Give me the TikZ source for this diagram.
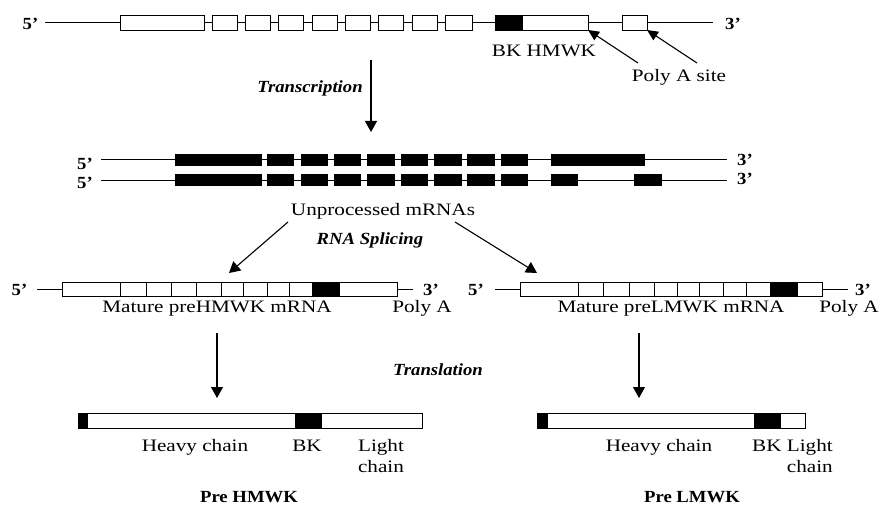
\documentclass[tikz,border=0pt]{standalone}
\usepackage{fontspec}
\setmainfont{Liberation Serif}[FakeStretch=1.21]
\newfontfamily\bfam{Liberation Serif}[FakeStretch=1.1]
\usetikzlibrary{arrows.meta}
\newcommand\cellbox[6]{\node[#6,minimum width={#3pt-#2pt},minimum height={#5pt-#4pt},anchor=north west] (#1) at (#2,#4) {};}
\begin{document}
\begin{tikzpicture}[x=1pt,y=-1pt,
  ex/.style={draw,fill=white,line width=0.9pt,inner sep=0,outer sep=0},
  bx/.style={draw,fill=black,line width=0.9pt,inner sep=0,outer sep=0},
  ln/.style={line width=0.9pt},
  arr/.style={line width=1.1pt,-{Triangle[width=12pt,length=11pt]}},
  sarr/.style={line width=1.1pt,-{Triangle[width=10pt,length=11pt]}},
  txt/.style={font=\fontsize{17.5}{19}\selectfont,inner sep=0},
  btxt/.style={font=\bfam\bfseries\fontsize{17}{19}\selectfont,inner sep=0},
  bitxt/.style={font=\bfam\bfseries\itshape\fontsize{17}{19}\selectfont,inner sep=0}]
\useasboundingbox[fill=white] (0,0) rectangle (881,508);

% ---------- gene ----------
\coordinate (gL) at (45,22.5);
\coordinate (gR) at (713,22.5);
\draw[ln] (gL) -- (gR);
\cellbox{g0}{120}{204}{15}{30}{ex}
\cellbox{g1}{212}{237}{15}{30}{ex}
\cellbox{g2}{245}{270}{15}{30}{ex}
\cellbox{g3}{278}{303}{15}{30}{ex}
\cellbox{g4}{312}{337}{15}{30}{ex}
\cellbox{g5}{345}{370}{15}{30}{ex}
\cellbox{g6}{378}{403}{15}{30}{ex}
\cellbox{g7}{412}{437}{15}{30}{ex}
\cellbox{g8}{445}{472}{15}{30}{ex}
\cellbox{gk}{495}{522}{15}{30}{bx}
\cellbox{gw}{522}{588}{15}{30}{ex}
\cellbox{gp}{622}{647}{15}{30}{ex}
\node[btxt,anchor=base] (g5p) at (30.5,29.3) {5’};
\node[btxt,anchor=base] (g3p) at (733,29.3) {3’};
\node[txt,anchor=base] (bkh) at (544,57) {BK HMWK};
\node[txt,anchor=base] (pas) at (679,81.7) {Poly A site};
\coordinate (pa1) at (638,63);
\coordinate (pa2) at (697,63);
\draw[sarr] (pa1) -- (gw.south east);
\draw[sarr] (pa2) -- (gp.south east);

% ---------- transcription ----------
\coordinate (t1) at (371,60);
\coordinate (t2) at (371,132);
\draw[arr] (t1) -- (t2);
\node[bitxt,anchor=base] (trs) at (310,92.7) {Transcription};

% ---------- unprocessed mRNAs ----------
\coordinate (r1L) at (101,159.5);
\coordinate (r1R) at (727,159.5);
\coordinate (r2L) at (101,180);
\coordinate (r2R) at (727,180);
\draw[ln] (r1L) -- (r1R);
\draw[ln] (r2L) -- (r2R);
\cellbox{a0}{175}{261}{154}{165}{bx}
\cellbox{a1}{267}{293}{154}{165}{bx}
\cellbox{a2}{301}{327}{154}{165}{bx}
\cellbox{a3}{334}{360}{154}{165}{bx}
\cellbox{a4}{367}{394}{154}{165}{bx}
\cellbox{a5}{401}{427}{154}{165}{bx}
\cellbox{a6}{434}{461}{154}{165}{bx}
\cellbox{a7}{467}{494}{154}{165}{bx}
\cellbox{a8}{501}{527}{154}{165}{bx}
\cellbox{a9}{551}{644}{154}{165}{bx}
\cellbox{b0}{175}{261}{174.5}{185.5}{bx}
\cellbox{b1}{267}{293}{174.5}{185.5}{bx}
\cellbox{b2}{301}{327}{174.5}{185.5}{bx}
\cellbox{b3}{334}{360}{174.5}{185.5}{bx}
\cellbox{b4}{367}{394}{174.5}{185.5}{bx}
\cellbox{b5}{401}{427}{174.5}{185.5}{bx}
\cellbox{b6}{434}{461}{174.5}{185.5}{bx}
\cellbox{b7}{467}{494}{174.5}{185.5}{bx}
\cellbox{b8}{501}{527}{174.5}{185.5}{bx}
\cellbox{b9}{551}{577}{174.5}{185.5}{bx}
\cellbox{b10}{634}{661}{174.5}{185.5}{bx}
\node[btxt,anchor=base] (r15) at (85,169) {5’};
\node[btxt,anchor=base] (r25) at (85,188) {5’};
\node[btxt,anchor=base] (r13) at (745,165) {3’};
\node[btxt,anchor=base] (r23) at (745,184) {3’};
\node[txt,anchor=base] (unp) at (383,215) {Unprocessed mRNAs};

% ---------- splicing ----------
\coordinate (s1) at (288,222);
\coordinate (s1e) at (229,273);
\coordinate (s2) at (455,222);
\coordinate (s2e) at (537,273);
\draw[arr] (s1) -- (s1e);
\draw[arr] (s2) -- (s2e);
\node[bitxt,anchor=base] (spl) at (370,244) {RNA Splicing};

% ---------- mature preHMWK ----------
\coordinate (mhL) at (37,289);
\coordinate (mhR) at (413,289);
\draw[ln] (mhL) -- (mhR);
\cellbox{h0}{62}{120}{282}{296}{ex}
\cellbox{h1}{120}{146}{282}{296}{ex}
\cellbox{h2}{146}{171}{282}{296}{ex}
\cellbox{h3}{171}{196}{282}{296}{ex}
\cellbox{h4}{196}{221}{282}{296}{ex}
\cellbox{h5}{221}{243}{282}{296}{ex}
\cellbox{h6}{243}{267}{282}{296}{ex}
\cellbox{h7}{267}{289}{282}{296}{ex}
\cellbox{h8}{289}{312}{282}{296}{ex}
\cellbox{hk}{312}{339}{282}{296}{bx}
\cellbox{hw}{339}{397}{282}{296}{ex}
\node[btxt,anchor=base] (mh5) at (19.5,295) {5’};
\node[btxt,anchor=base] (mh3) at (431,295) {3’};
\node[txt,anchor=base] (mht) at (217,312) {Mature preHMWK mRNA};
\node[txt,anchor=base] (mhp) at (422,312) {Poly A};

% ---------- mature preLMWK ----------
\coordinate (mlL) at (495,289);
\coordinate (mlR) at (848,289);
\draw[ln] (mlL) -- (mlR);
\cellbox{l0}{520}{578}{282}{296}{ex}
\cellbox{l1}{578}{603}{282}{296}{ex}
\cellbox{l2}{603}{629}{282}{296}{ex}
\cellbox{l3}{629}{654}{282}{296}{ex}
\cellbox{l4}{654}{677}{282}{296}{ex}
\cellbox{l5}{677}{699}{282}{296}{ex}
\cellbox{l6}{699}{723}{282}{296}{ex}
\cellbox{l7}{723}{746}{282}{296}{ex}
\cellbox{l8}{746}{770}{282}{296}{ex}
\cellbox{lk}{770}{797}{282}{296}{bx}
\cellbox{lw}{797}{822}{282}{296}{ex}
\node[btxt,anchor=base] (ml5) at (476,295) {5’};
\node[btxt,anchor=base] (ml3) at (863,295) {3’};
\node[txt,anchor=base] (mlt) at (671,312) {Mature preLMWK mRNA};
\node[txt,anchor=base] (mlp) at (849,312) {Poly A};

% ---------- translation ----------
\coordinate (x1) at (217,333);
\coordinate (x1e) at (217,398);
\coordinate (x2) at (639,333);
\coordinate (x2e) at (639,398);
\draw[arr] (x1) -- (x1e);
\draw[arr] (x2) -- (x2e);
\node[bitxt,anchor=base] (trl) at (438,375.7) {Translation};

% ---------- pre HMWK protein ----------
\cellbox{ph}{78}{422}{413}{428}{ex}
\cellbox{ph1}{78}{87}{413}{428}{bx}
\cellbox{ph2}{295}{321}{413}{428}{bx}
\node[txt,anchor=base] (phh) at (195,451) {Heavy chain};
\node[txt,anchor=base] (phb) at (307,451) {BK};
\node[txt,anchor=base] (phl) at (381,451) {Light};
\node[txt,anchor=base] (phc) at (381,472) {chain};
\node[btxt,anchor=base] (pht) at (249,502) {Pre HMWK};

% ---------- pre LMWK protein ----------
\cellbox{pl}{537}{805}{413}{428}{ex}
\cellbox{pl1}{537}{547}{413}{428}{bx}
\cellbox{pl2}{754}{780}{413}{428}{bx}
\node[txt,anchor=base] (plh) at (659,451) {Heavy chain};
\node[txt,anchor=base east] (plb) at (833,451) {BK Light};
\node[txt,anchor=base east] (plc) at (833,472) {chain};
\node[btxt,anchor=base] (plt) at (692,502) {Pre LMWK};
\end{tikzpicture}
\end{document}
